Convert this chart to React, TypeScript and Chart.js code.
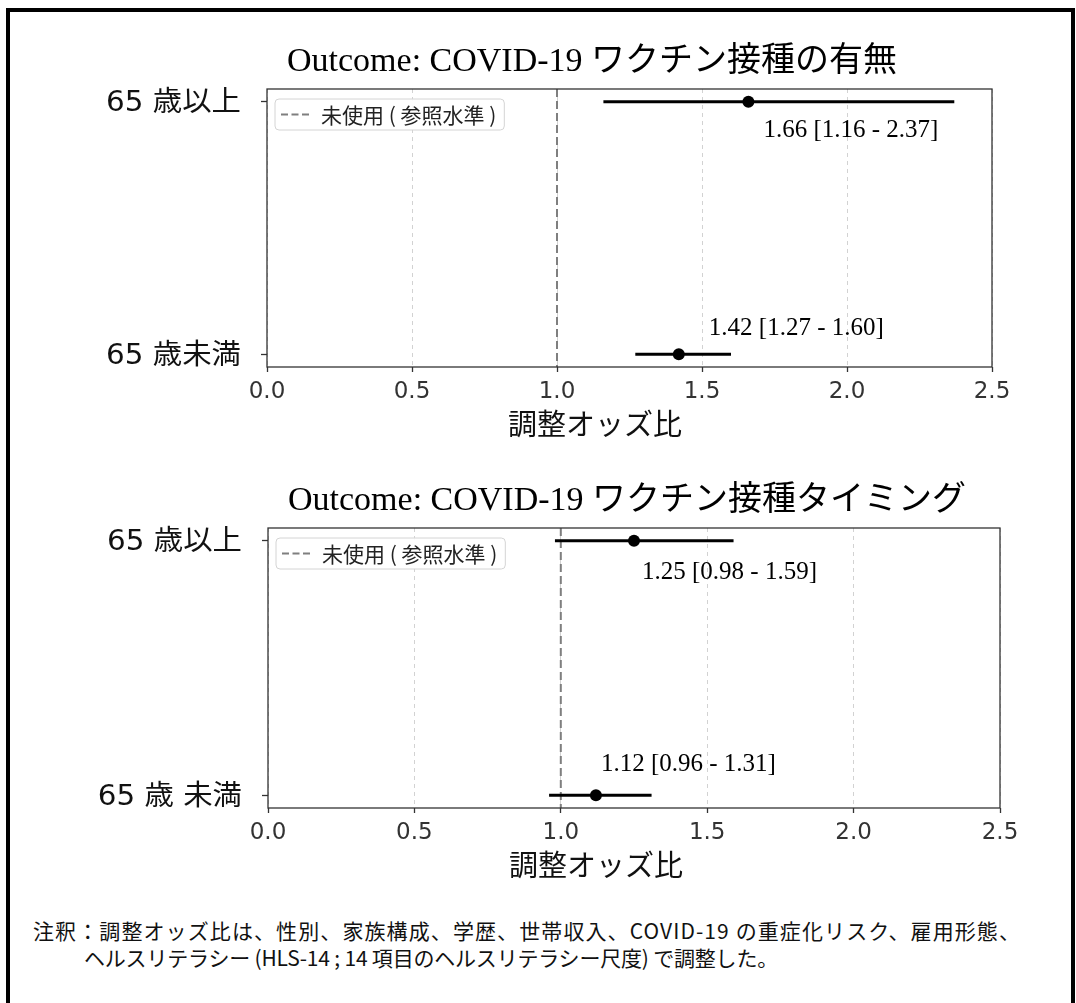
import React, { useEffect, useRef } from 'react';
import { Chart, registerables } from 'chart.js';

Chart.register(...registerables);

// ---------------- data ----------------
const groupsPresence = ['65 歳以上', '65 歳未満'];
const oddsPresence = [1.66, 1.42];
const lowerPresence = [1.16, 1.27];
const upperPresence = [2.37, 1.6];

const groupsTiming = ['65 歳以上', '65 歳 未満'];
const oddsTiming = [1.25, 1.12];
const lowerTiming = [0.98, 0.96];
const upperTiming = [1.59, 1.31];

const xTickValues = [0, 0.5, 1.0, 1.5, 2.0, 2.5];
const referenceOdds = 1.0;
const referenceLabel = '未使用 ( 参照水準 )';
const xAxisTitle = '調整オッズ比';
const titlePresence = 'Outcome: COVID-19 ワクチン接種の有無';
const titleTiming = 'Outcome: COVID-19 ワクチン接種タイミング';
const noteLines = [
  '注釈：調整オッズ比は、性別、家族構成、学歴、世帯収入、COVID-19 の重症化リスク、雇用形態、',
  'ヘルスリテラシー (HLS-14 ; 14 項目のヘルスリテラシー尺度) で調整した。',
];

// ---------------- layout / style (not data) ----------------
type Placement = { dx: number; dy: number };
const placementsPresence: Placement[] = [
  { dx: 15, dy: 29 },
  { dx: 30, dy: -26 },
];
const placementsTiming: Placement[] = [
  { dx: 8, dy: 32 },
  { dx: 5, dy: -31 },
];

interface ForestSpec {
  title: string;
  groups: string[];
  odds: number[];
  lower: number[];
  upper: number[];
  placements: Placement[];
  area: { left: number; right: number; top: number; bottom: number };
  width: number;
  height: number;
}

const Y_MIN = -0.05;
const Y_MAX = 1.05;

function ciText(o: number, l: number, u: number) {
  return `${o.toFixed(2)} [${l.toFixed(2)} - ${u.toFixed(2)}]`;
}

function buildChart(canvas: HTMLCanvasElement, spec: ForestSpec) {
  const { area, width, height } = spec;

  const overlay = {
    id: 'forestOverlay',
    afterDraw(chart: any) {
      const { ctx, chartArea } = chart;
      const xs = chart.scales.x;
      const ys = chart.scales.y;
      const { left, right, top, bottom } = chartArea;
      ctx.save();

      // value labels
      ctx.font = '25px "Liberation Serif", "Times New Roman", serif';
      ctx.fillStyle = '#000';
      ctx.textAlign = 'left';
      ctx.textBaseline = 'middle';
      spec.groups.forEach((_, i) => {
        const px = xs.getPixelForValue(spec.odds[i]);
        const py = ys.getPixelForValue(i);
        const p = spec.placements[i];
        ctx.fillText(ciText(spec.odds[i], spec.lower[i], spec.upper[i]), px + p.dx, py + p.dy);
      });

      // legend box
      ctx.font = '21px "Noto Sans CJK JP", sans-serif';
      const tw = ctx.measureText(referenceLabel).width;
      const lx = left + 8;
      const ly = top + 10;
      const bw = tw + 54;
      const bh = 31;
      ctx.beginPath();
      if ((ctx as any).roundRect) (ctx as any).roundRect(lx, ly, bw, bh, 4);
      else ctx.rect(lx, ly, bw, bh);
      ctx.fillStyle = 'rgba(255,255,255,0.9)';
      ctx.fill();
      ctx.strokeStyle = '#d4d4d4';
      ctx.lineWidth = 1;
      ctx.stroke();
      ctx.beginPath();
      ctx.setLineDash([7, 3.5]);
      ctx.strokeStyle = '#7f7f7f';
      ctx.lineWidth = 2;
      ctx.moveTo(lx + 6, ly + bh / 2);
      ctx.lineTo(lx + 37, ly + bh / 2);
      ctx.stroke();
      ctx.setLineDash([]);
      ctx.fillStyle = '#222';
      ctx.textBaseline = 'middle';
      ctx.textAlign = 'left';
      ctx.fillText(referenceLabel, lx + 46, ly + bh / 2 + 1);

      // frame
      ctx.strokeStyle = '#333';
      ctx.lineWidth = 1.3;
      ctx.strokeRect(left, top, right - left, bottom - top);

      // category labels
      ctx.font = '28px "DejaVu Sans", "Noto Sans CJK JP", sans-serif';
      ctx.fillStyle = '#111';
      ctx.textAlign = 'right';
      ctx.textBaseline = 'middle';
      spec.groups.forEach((g, i) => {
        const py = ys.getPixelForValue(i);
        ctx.save();
        ctx.translate(left - 26, py + 2);
        ctx.scale(1.05, 1);
        ctx.fillText(g, 0, 0);
        ctx.restore();
      });

      // title
      ctx.font = '34px "Liberation Serif", "Noto Sans CJK JP", serif';
      ctx.fillStyle = '#000';
      ctx.textAlign = 'left';
      ctx.textBaseline = 'alphabetic';
      ctx.fillText(spec.title, left + 20, top - 18);

      // x axis title
      ctx.font = '29px "Noto Sans CJK JP", sans-serif';
      ctx.fillStyle = '#111';
      ctx.textAlign = 'center';
      ctx.textBaseline = 'middle';
      ctx.fillText(xAxisTitle, left + 328, bottom + 57);

      ctx.restore();
    },
  };

  const datasets: any[] = [
    {
      label: 'OR',
      data: spec.groups.map((_, i) => ({ x: spec.odds[i], y: i })),
      pointRadius: 6,
      pointBackgroundColor: '#000',
      pointBorderWidth: 0,
      showLine: false,
      order: 0,
    },
    ...spec.groups.map((g, i) => ({
      label: g + ' 95%CI',
      data: [
        { x: spec.lower[i], y: i },
        { x: spec.upper[i], y: i },
      ],
      showLine: true,
      borderColor: '#000',
      borderWidth: 3,
      pointRadius: 0,
      order: 1,
    })),
    {
      label: referenceLabel,
      data: [
        { x: referenceOdds, y: Y_MIN },
        { x: referenceOdds, y: Y_MAX },
      ],
      showLine: true,
      borderColor: '#7f7f7f',
      borderWidth: 2,
      borderDash: [8, 4],
      pointRadius: 0,
      order: 2,
    },
  ];

  return new Chart(canvas, {
    type: 'scatter',
    data: { datasets },
    options: {
      responsive: false,
      animation: false,
      devicePixelRatio: 1,
      events: [],
      layout: { padding: { left: 0, right: width - area.right, top: area.top, bottom: 0 } },
      plugins: {
        legend: { display: false },
        tooltip: { enabled: false },
        title: { display: false },
      },
      scales: {
        x: {
          type: 'linear',
          min: xTickValues[0],
          max: xTickValues[xTickValues.length - 1],
          afterBuildTicks: (s: any) => {
            s.ticks = xTickValues.map((v) => ({ value: v }));
          },
          afterFit: (s: any) => {
            s.height = height - area.bottom;
          },
          ticks: {
            autoSkip: false,
            maxRotation: 0,
            padding: 6,
            color: '#333',
            font: { family: '"DejaVu Sans", sans-serif', size: 23 },
            callback: (v: any) => Number(v).toFixed(1),
          },
          grid: {
            color: '#d2d2d2',
            lineWidth: 1,
            drawTicks: true,
            tickLength: 5,
            tickColor: '#333',
            tickWidth: 1.3,
          },
          border: { display: false, dash: [4, 4] },
        },
        y: {
          type: 'linear',
          reverse: true,
          min: Y_MIN,
          max: Y_MAX,
          afterBuildTicks: (s: any) => {
            s.ticks = spec.groups.map((_, i) => ({ value: i }));
          },
          afterFit: (s: any) => {
            s.width = area.left;
          },
          ticks: { display: false },
          grid: {
            drawOnChartArea: false,
            drawTicks: true,
            tickLength: 6,
            tickColor: '#333',
            tickWidth: 1.3,
          },
          border: { display: false },
        },
      },
    },
    plugins: [overlay],
  } as any);
}

function ForestPanel({ spec, top }: { spec: ForestSpec; top: number }) {
  const ref = useRef<HTMLCanvasElement | null>(null);
  useEffect(() => {
    if (!ref.current) return;
    const chart = buildChart(ref.current, spec);
    return () => chart.destroy();
  }, [spec]);
  return (
    <canvas
      ref={ref}
      width={spec.width}
      height={spec.height}
      style={{ position: 'absolute', left: 0, top, width: spec.width, height: spec.height }}
    />
  );
}

const specPresence: ForestSpec = {
  title: titlePresence,
  groups: groupsPresence,
  odds: oddsPresence,
  lower: lowerPresence,
  upper: upperPresence,
  placements: placementsPresence,
  area: { left: 267, right: 992, top: 89, bottom: 367 },
  width: 1076,
  height: 450,
};

const specTiming: ForestSpec = {
  title: titleTiming,
  groups: groupsTiming,
  odds: oddsTiming,
  lower: lowerTiming,
  upper: upperTiming,
  placements: placementsTiming,
  area: { left: 268, right: 1000, top: 78, bottom: 358 },
  width: 1076,
  height: 450,
};

export default function App() {
  return (
    <div
      style={{
        position: 'absolute',
        left: 0,
        top: 0,
        width: 1076,
        height: 1003,
        overflow: 'hidden',
        background: '#fff',
      }}
    >
      <div
        style={{
          position: 'absolute',
          left: 6,
          top: 8,
          width: 1069,
          height: 1030,
          border: '4px solid #000',
          boxSizing: 'border-box',
        }}
      />
      <ForestPanel spec={specPresence} top={0} />
      <ForestPanel spec={specTiming} top={450} />
      <div
        style={{
          position: 'absolute',
          left: 33,
          top: 917,
          fontFamily: '"Noto Sans CJK JP", sans-serif',
          fontSize: 21,
          lineHeight: '27px',
          color: '#111',
          whiteSpace: 'pre',
        }}
      >
        <div style={{ letterSpacing: 1.1 }}>{noteLines[0]}</div>
        <div style={{ marginLeft: 51, letterSpacing: -0.2 }}>{noteLines[1]}</div>
      </div>
    </div>
  );
}
